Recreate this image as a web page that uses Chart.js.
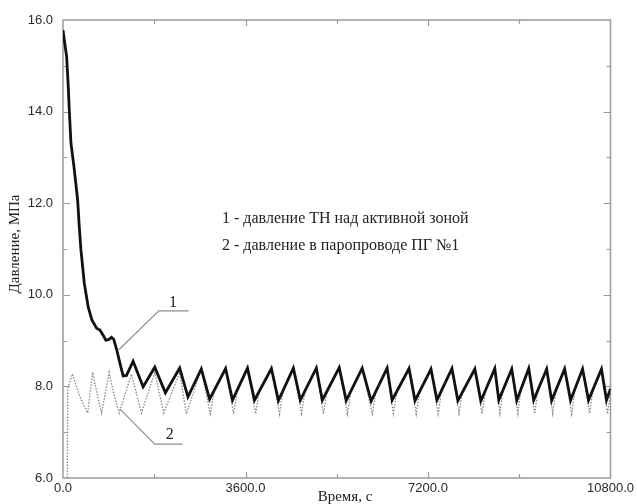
<!DOCTYPE html>
<html><head><meta charset="utf-8">
<script src="https://cdn.jsdelivr.net/npm/chart.js@4.4.1/dist/chart.umd.min.js"></script>
<style>html,body{margin:0;padding:0;background:#fff}canvas{display:block}</style>
</head><body>
<canvas id="c" width="637" height="504"></canvas>
<script>
// ---- data (time, s ; pressure, MPa) ----
const t1 = [0,40,72,104,124,157,216,289,320,354,419,498,570,663,728,800,846,900,958,1000,1023,1060,1107,1186,1253,1383,1580,1810,2020,2301,2465,2728,2892,3207,3344,3639,3777,4111,4249,4544,4682,4997,5115,5449,5587,5902,6079,6393,6492,6826,6944,7259,7377,7672,7790,8124,8243,8518,8597,8852,8951,9187,9285,9541,9639,9895,10013,10249,10367,10622,10721,10800];
const p1 = [15.78,15.45,15.20,14.54,14.03,13.31,12.80,12.07,11.50,10.98,10.26,9.73,9.45,9.27,9.23,9.10,9.01,9.02,9.07,9.03,8.94,8.80,8.58,8.23,8.24,8.55,7.99,8.42,7.86,8.40,7.77,8.38,7.72,8.39,7.70,8.40,7.70,8.39,7.69,8.40,7.70,8.40,7.70,8.41,7.69,8.40,7.68,8.40,7.70,8.39,7.69,8.38,7.70,8.39,7.69,8.38,7.68,8.39,7.70,8.38,7.69,8.39,7.70,8.38,7.69,8.38,7.70,8.38,7.70,8.38,7.70,7.95];

const t2 = [85,92,185,330,486,584,670,761,911,1000,1107,1351,1548,1810,1987,2301,2433,2728,2905,2990,3207,3365,3440,3639,3800,3875,4111,4272,4345,4544,4705,4780,4997,5138,5215,5449,5610,5685,5902,6100,6175,6393,6515,6590,6826,6967,7040,7259,7400,7470,7672,7812,7885,8124,8265,8335,8518,8618,8685,8852,8972,9035,9187,9305,9370,9541,9660,9725,9895,10033,10100,10249,10388,10455,10622,10741,10800];
const p2 = [6.00,7.95,8.27,7.78,7.42,8.31,7.85,7.42,8.31,7.85,7.42,8.27,7.42,8.30,7.42,8.30,7.40,8.37,7.40,7.93,8.38,7.40,7.92,8.39,7.40,7.93,8.38,7.40,7.92,8.39,7.41,7.93,8.39,7.40,7.93,8.40,7.40,7.92,8.39,7.40,7.90,8.39,7.41,7.94,8.38,7.40,7.92,8.37,7.40,7.92,8.38,7.41,7.93,8.37,7.40,7.91,8.38,7.42,7.95,8.37,7.41,7.94,8.38,7.40,7.94,8.37,7.41,7.94,8.37,7.40,7.94,8.37,7.41,7.94,8.37,7.40,7.85];

const xMin = 0, xMax = 10800, xMajor = 3600, xMinor = 1800;
const yMin = 6, yMax = 16, yMajor = 2, yMinor = 1;

const legendLines = ['1 - давление ТН над активной зоной', '2 - давление в паропроводе ПГ №1'];
const xTitle = 'Время, с';
const yTitle = 'Давление, МПа';

// leader lines in data coordinates
const lead1 = [[1102, 8.80], [1889, 9.65], [2479, 9.65]];
const lead2 = [[1121, 7.51], [1810, 6.74], [2361, 6.74]];
const lab1 = [2170, 9.83], lab2 = [2105, 6.94];

const pts = (t, p) => t.map((v, i) => ({x: v, y: p[i]}));

const framePlugin = {
  id: 'frame',
  beforeDatasetsDraw(chart) {
    const {ctx, chartArea: a, scales: {x, y}} = chart;
    ctx.save();
    ctx.strokeStyle = '#9a9a9a';
    ctx.lineWidth = 1.5;
    ctx.strokeRect(a.left, a.top, a.right - a.left, a.bottom - a.top);
    ctx.lineWidth = 1.2;
    ctx.beginPath();
    for (let v = xMin + xMinor; v < xMax; v += xMinor) {
      const px = Math.round(x.getPixelForValue(v)) + 0.5;
      const L = (v % xMajor === 0) ? 6 : 4;
      ctx.moveTo(px, a.bottom); ctx.lineTo(px, a.bottom - L);
      ctx.moveTo(px, a.top); ctx.lineTo(px, a.top + L);
    }
    for (let v = yMin + yMinor; v < yMax; v += yMinor) {
      const py = Math.round(y.getPixelForValue(v)) + 0.5;
      const L = (v % yMajor === 0) ? 7 : 4;
      ctx.moveTo(a.left, py); ctx.lineTo(a.left + L, py);
      ctx.moveTo(a.right, py); ctx.lineTo(a.right - L, py);
    }
    ctx.stroke();
    ctx.restore();
  },
  afterDraw(chart) {
    const {ctx, scales: {x, y}} = chart;
    ctx.save();
    ctx.strokeStyle = '#8e8e8e';
    ctx.lineWidth = 1.2;
    [lead1, lead2].forEach(l => {
      ctx.beginPath();
      l.forEach((p, i) => {
        const px = x.getPixelForValue(p[0]), py = y.getPixelForValue(p[1]);
        i ? ctx.lineTo(px, py) : ctx.moveTo(px, py);
      });
      ctx.stroke();
    });
    ctx.fillStyle = '#222';
    ctx.font = '16px "Liberation Serif", "DejaVu Serif", serif';
    ctx.textAlign = 'center';
    ctx.textBaseline = 'middle';
    ctx.fillText('1', x.getPixelForValue(lab1[0]), y.getPixelForValue(lab1[1]));
    ctx.fillText('2', x.getPixelForValue(lab2[0]), y.getPixelForValue(lab2[1]));

    ctx.font = '16px "Liberation Serif", "DejaVu Serif", serif';
    ctx.textAlign = 'left';
    ctx.fillText(legendLines[0], 222, 219);
    ctx.fillText(legendLines[1], 222, 246);

    ctx.font = '15px "Liberation Serif", "DejaVu Serif", serif';
    ctx.textAlign = 'center';
    ctx.fillText(xTitle, 345, 497);
    ctx.translate(15, 244);
    ctx.rotate(-Math.PI / 2);
    ctx.fillText(yTitle, 0, 0);
    ctx.restore();
  }
};

new Chart(document.getElementById('c'), {
  type: 'line',
  data: {
    datasets: [
      {data: pts(t1, p1), borderColor: '#111', borderWidth: 2.8, pointRadius: 0, tension: 0, order: 1},
      {data: pts(t2, p2), borderColor: '#888', borderWidth: 1.3, borderDash: [1.5, 1.5], pointRadius: 0, tension: 0, order: 2}
    ]
  },
  options: {
    responsive: false,
    animation: false,
    layout: {padding: {top: 20, right: 24, left: 0, bottom: 0}},
    plugins: {legend: {display: false}, tooltip: {enabled: false}},
    scales: {
      x: {
        type: 'linear', min: xMin, max: xMax,
        grid: {display: false, drawTicks: false}, border: {display: false},
        ticks: {stepSize: xMinor, autoSkip: false, maxRotation: 0, padding: 3, color: '#2a2a2a',
          font: {family: '"Liberation Sans", Arial, sans-serif', size: 13},
          callback: v => (v % xMajor === 0 ? v.toFixed(1) : '')},
        afterFit(s) { s.height = 26; }
      },
      y: {
        type: 'linear', min: yMin, max: yMax,
        grid: {display: false, drawTicks: false}, border: {display: false},
        ticks: {stepSize: yMinor, autoSkip: false, padding: 10, color: '#2a2a2a',
          font: {family: '"Liberation Sans", Arial, sans-serif', size: 13},
          callback: v => (v % yMajor === 0 ? v.toFixed(1) : '')},
        afterFit(s) { s.width = 63; }
      }
    }
  },
  plugins: [framePlugin]
});
</script>
</body></html>
